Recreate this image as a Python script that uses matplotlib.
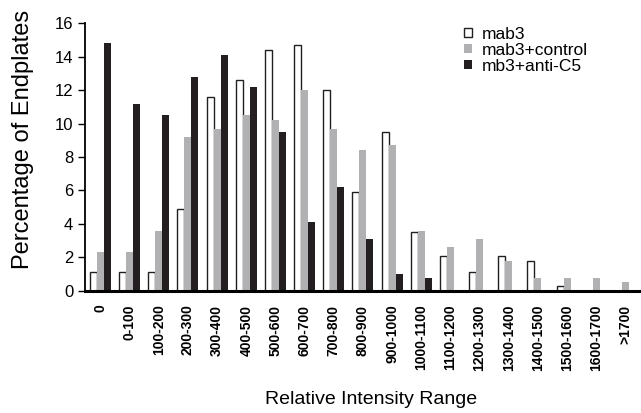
import matplotlib.pyplot as plt
import numpy as np

plt.rcParams['font.family'] = ['Liberation Sans', 'DejaVu Sans']

# Intervalles d'intensité
categories = ['0', '0-100', '100-200', '200-300', '300-400', '400-500',
              '500-600', '600-700', '700-800', '800-900', '900-1000',
              '1000-1100', '1100-1200', '1200-1300', '1300-1400',
              '1400-1500', '1500-1600', '1600-1700', '>1700']

mab3 = [1.1, 1.1, 1.1, 4.9, 11.6, 12.6, 14.4, 14.7, 12.0, 5.9, 9.5,
        3.5, 2.1, 1.1, 2.1, 1.75, 0.3, 0, 0]
mab3_control = [2.3, 2.3, 3.6, 9.2, 9.7, 10.5, 10.2, 12.0, 9.7, 8.4, 8.7,
                3.6, 2.6, 3.1, 1.8, 0.75, 0.75, 0.75, 0.55]
mb3_antic5 = [14.8, 11.2, 10.5, 12.8, 14.1, 12.2, 9.5, 4.1, 6.2, 3.1, 1.0,
              0.75, 0, 0, 0, 0, 0, 0, 0]

fig = plt.figure(figsize=(6.41, 4.13), dpi=100)
ax = fig.add_axes([85/641, 122.3/413, 555/641, 267.4/413])

x = np.arange(len(categories))
w = 0.24
ax.bar(x - w, mab3, w, color='white', edgecolor='#231f20', linewidth=1.0,
       label='mab3')
ax.bar(x, mab3_control, w, color='#b1b1b3', label='mab3+control')
ax.bar(x + w, mb3_antic5, w, color='#231f20', label='mb3+anti-C5')

ax.set_xlim(-0.53, 18.5)
ax.set_ylim(0, 16)
ax.set_yticks(range(0, 17, 2))
ax.tick_params(axis='y', labelsize=12, length=5, width=1, direction='out')
ax.set_xticks(x)
ax.set_xticklabels(categories, rotation=90, fontsize=10, fontweight='bold')
ax.tick_params(axis='x', length=0, pad=10)

for s in ['top', 'right']:
    ax.spines[s].set_visible(False)
ax.spines['left'].set_linewidth(1.3)
ax.spines['bottom'].set_linewidth(2.2)

# titres des axes
fig.text(23/641, 1 - 139/413, 'Percentage of Endplates', fontsize=17,
         rotation=90, ha='center', va='center')
fig.text(371/641, 1 - 399/413, 'Relative Intensity Range', fontsize=14,
         ha='center', va='center')

ax.legend(loc='upper left', bbox_to_anchor=(464/641, 1 - 27/413),
          bbox_transform=fig.transFigure, frameon=False, fontsize=12.5,
          handlelength=0.45, handleheight=0.45, handletextpad=0.6,
          labelspacing=0.05, borderpad=0, borderaxespad=0)

fig.savefig('out.png', dpi=100)
